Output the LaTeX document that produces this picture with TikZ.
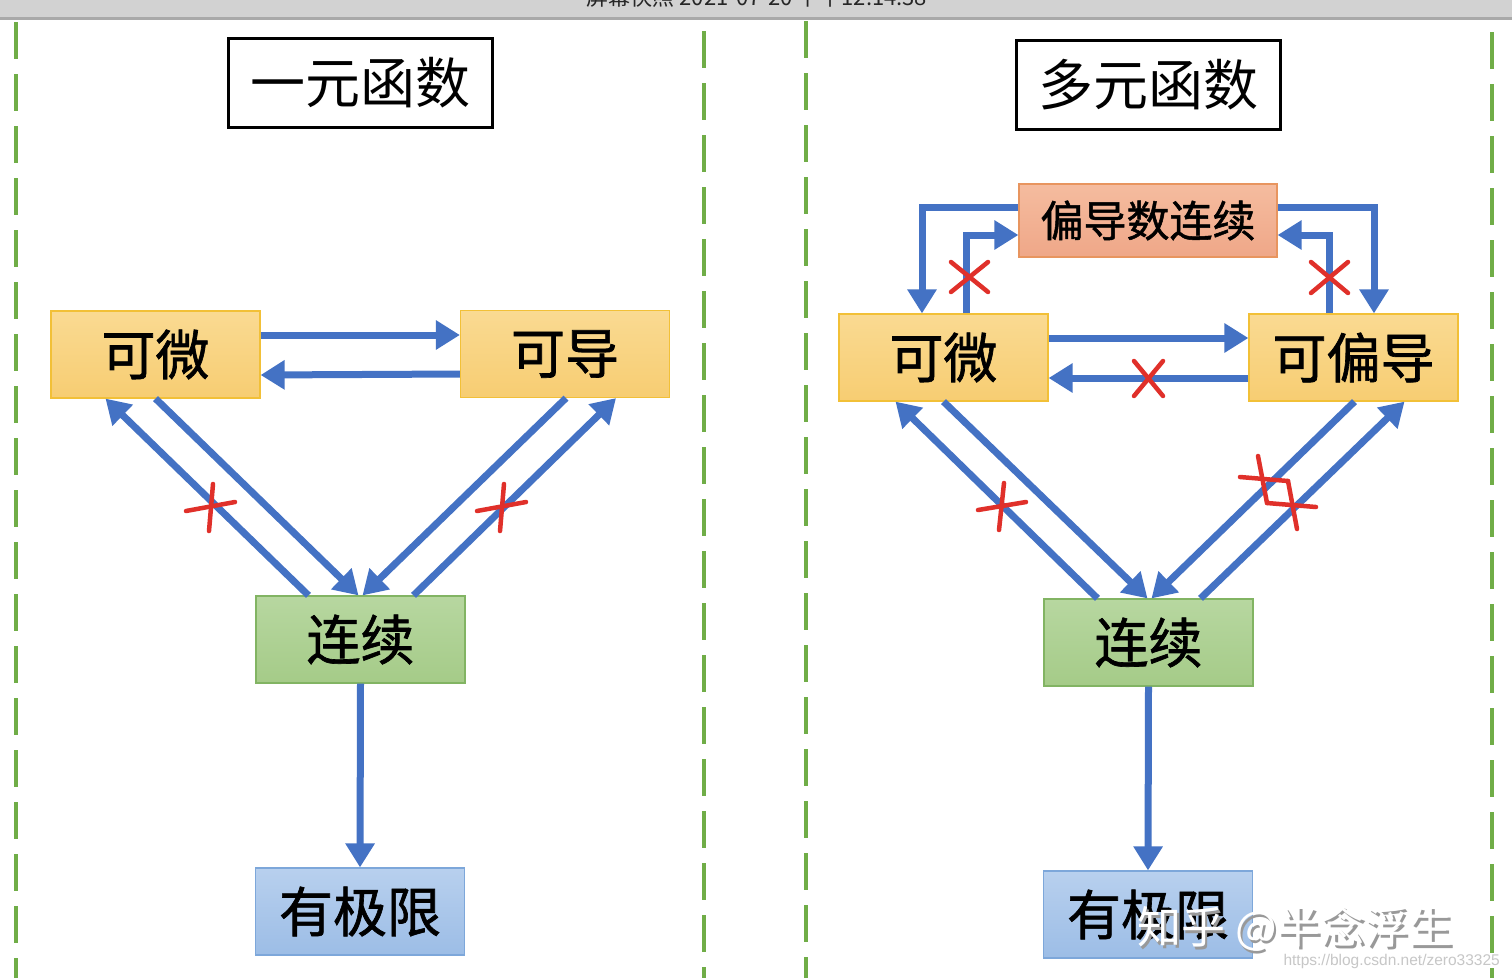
\documentclass[tikz,border=0pt]{standalone}
\usepackage{fontspec}
\setmainfont{Noto Sans CJK SC}
\newfontfamily\cjk{Noto Sans CJK SC}
\newfontfamily\cjkheavy[FakeBold=1.2]{Noto Sans CJK SC}
\newfontfamily\latinsans{Liberation Sans}
\usetikzlibrary{arrows.meta,calc}
\definecolor{arrblue}{HTML}{4472C4}
\definecolor{divgreen}{HTML}{70AD47}
\definecolor{xred}{HTML}{E0302A}
\definecolor{ytop}{HTML}{FADA92}
\definecolor{ybot}{HTML}{F7CD72}
\definecolor{yline}{HTML}{F2C037}
\definecolor{gtop}{HTML}{B7D7A0}
\definecolor{gbot}{HTML}{A5CB88}
\definecolor{gline}{HTML}{82B463}
\definecolor{btop}{HTML}{B8D0EE}
\definecolor{bbot}{HTML}{9CBDE6}
\definecolor{bline}{HTML}{7DA7DA}
\definecolor{stop}{HTML}{F5BC9F}
\definecolor{sbot}{HTML}{EFA788}
\definecolor{sline}{HTML}{E8955F}
\definecolor{bargray}{HTML}{D2D2D2}
\definecolor{barline}{HTML}{A9A9A9}
\begin{document}
\begin{tikzpicture}[x=1pt,y=-1pt,
  box/.style={minimum width=209pt, minimum height=87pt, inner sep=0pt, line width=1.2pt,
    font=\cjkheavy\fontsize{54pt}{60pt}\selectfont},
  ybox/.style={box, draw=yline, top color=ytop, bottom color=ybot},
  gbox/.style={box, draw=gline, top color=gtop, bottom color=gbot},
  bbox/.style={box, draw=bline, top color=btop, bottom color=bbot},
  sbox/.style={box, draw=sline, top color=stop, bottom color=sbot, minimum width=258pt, minimum height=73pt,
    font=\cjkheavy\fontsize{43pt}{50pt}\selectfont},
  titlebox/.style={draw=black, fill=white, line width=3pt, minimum width=264pt, minimum height=89pt, inner sep=0pt,
    font=\cjk\fontsize{55pt}{62pt}\selectfont},
  arr/.style={draw=arrblue, line width=7pt, -{Triangle[length=24pt,width=28pt]}},
  xmark/.style={draw=xred, line width=4.5pt, line cap=round},
  divider/.style={draw=divgreen, line width=4pt, dash pattern=on 37pt off 15pt}
]
\useasboundingbox (0,0) rectangle (1512,978);
\fill[white] (0,0) rectangle (1512,978);

% screenshot title bar
\fill[bargray] (0,0) rectangle (1512,18);
\fill[barline] (0,17) rectangle (1512,19.5);
\begin{scope}
  \clip (0,0) rectangle (1512,17);
  \node[anchor=base, inner sep=0pt, text=black!85, font=\cjk\fontsize{22pt}{24pt}\selectfont] (shot) at (757,5) {屏幕快照 2021-07-20 下午12.14.38};
\end{scope}

% dashed dividers
\draw[divider] (16,22) -- (16,978);
\draw[divider] (704,31) -- (704,978);
\draw[divider] (806,21) -- (806,978);
\draw[divider] (1492,32) -- (1492,978);

% ---------- left panel ----------
\node[titlebox] (t1) at (360,82.5) {一元函数};
\node[ybox] (kw1) at (155.5,354.5) {可微};
\node[ybox] (kd1) at (565,354) {可导};
\node[gbox] (lx1) at (360.5,639.5) {连续};
\node[bbox] (yj1) at (360,911.5) {有极限};

\draw[arr] ([yshift=19.5pt]kw1.east) -- ([yshift=19pt]kd1.west);
\draw[arr] ([yshift=-20pt]kd1.west) -- ([yshift=-20.5pt]kw1.east);
\draw[arr] ([xshift=-52pt]lx1.north) -- ([xshift=-50pt]kw1.south);
\draw[arr] (kw1.south) -- ([xshift=-2pt]lx1.north);
\draw[arr] ([xshift=1pt]kd1.south) -- ([xshift=2pt]lx1.north);
\draw[arr] ([xshift=53pt]lx1.north) -- ([xshift=51pt]kd1.south);
\draw[arr] (lx1.south) -- (yj1.north);

% crosses (left panel)
\draw[xmark] (186,511) -- (235,502);
\draw[xmark] (213,484) -- (209,531);
\draw[xmark] (477,511) -- (526,502);
\draw[xmark] (504,484) -- (500,531);

% ---------- right panel ----------
\node[titlebox] (t2) at (1148,85) {多元函数};
\node[sbox] (pd) at (1148,220.5) {偏导数连续};
\node[ybox] (kw2) at (943.5,357.5) {可微};
\node[ybox] (kp) at (1353.5,357.5) {可偏导};
\node[gbox] (lx2) at (1148.5,642.5) {连续};
\node[bbox] (yj2) at (1148,914.5) {有极限};

\draw[arr] ([yshift=19.5pt]kw2.east) -- ([yshift=19.5pt]kp.west);
\draw[arr] ([yshift=-20.5pt]kp.west) -- ([yshift=-20.5pt]kw2.east);
\draw[arr] ([yshift=13.5pt]pd.west) -| ([xshift=-21.5pt]kw2.north);
\draw[arr] ([xshift=22.5pt]kw2.north) |- ([yshift=-14.5pt]pd.west);
\draw[arr] ([yshift=13.5pt]pd.east) -| ([xshift=20.5pt]kp.north);
\draw[arr] ([xshift=-24.5pt]kp.north) |- ([yshift=-14.5pt]pd.east);
\draw[arr] ([xshift=-51pt]lx2.north) -- ([xshift=-48pt]kw2.south);
\draw[arr] (kw2.south) -- ([xshift=-1pt]lx2.north);
\draw[arr] ([xshift=1pt]kp.south) -- ([xshift=3pt]lx2.north);
\draw[arr] ([xshift=52pt]lx2.north) -- ([xshift=51pt]kp.south);
\draw[arr] (lx2.south) -- (yj2.north);

% crosses (right panel)
\draw[xmark] (951,262) -- (988,292);
\draw[xmark] (951,292) -- (988,262);
\draw[xmark] (1311,262) -- (1348,293);
\draw[xmark] (1311,293) -- (1348,262);
\draw[xmark] (1134,361) -- (1163,396);
\draw[xmark] (1163,361) -- (1134,396);
\draw[xmark] (978,510) -- (1026,502);
\draw[xmark] (1004,483) -- (999,530);
\draw[xmark] (1240,477) -- (1288,481);
\draw[xmark] (1258,456) -- (1267,503);
\draw[xmark] (1267,503) -- (1316,507);
\draw[xmark] (1288,481) -- (1297,529);

% watermark
\node[inner sep=0pt, text=white, font=\cjk\fontsize{44pt}{50pt}\selectfont] (wm) at (1295,930)
  {\makebox[0pt][l]{\raisebox{-2.5pt}{\hspace{2.5pt}\textcolor{black!40}{知乎 @半念浮生}}}知乎 @半念浮生};
\node[inner sep=0pt, anchor=east, text=black!22, font=\latinsans\fontsize{15.5pt}{17pt}\selectfont] (url) at (1500,961)
  {https://blog.csdn.net/zero33325};
\end{tikzpicture}
\end{document}
